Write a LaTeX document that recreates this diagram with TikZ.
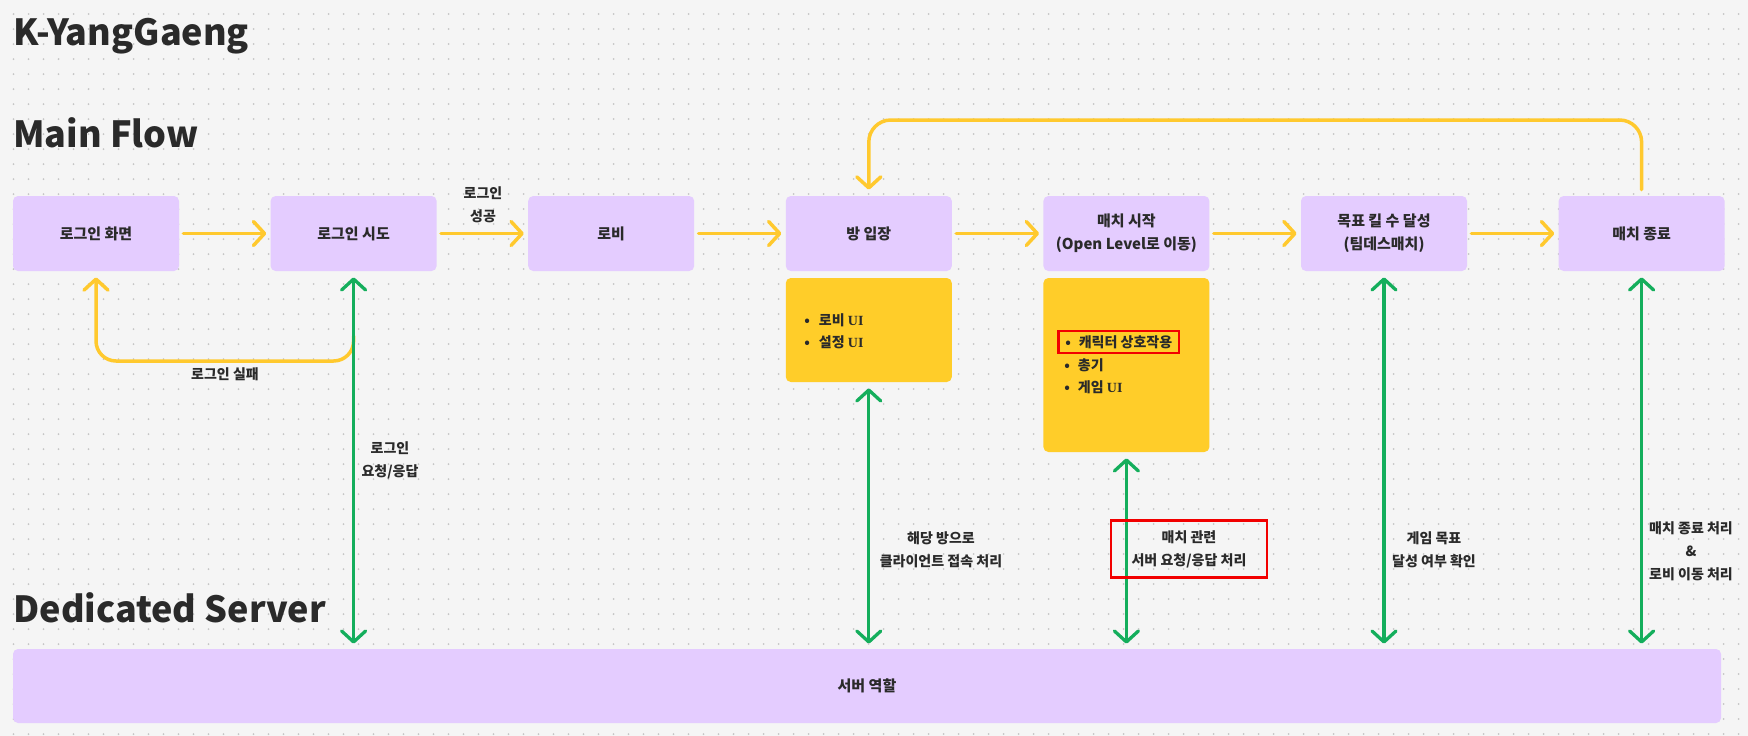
\documentclass[tikz,border=0pt]{standalone}
\usepackage{fontspec}
\setmainfont{Noto Sans CJK KR}
\newfontfamily\uifont{Liberation Serif}
\usetikzlibrary{arrows.meta}

\definecolor{canvas}{HTML}{F5F5F5}
\definecolor{dotgray}{HTML}{C6C6C6}
\definecolor{lavender}{HTML}{E4CCFF}
\definecolor{notey}{HTML}{FFCD29}
\definecolor{arrowy}{HTML}{FFC92E}
\definecolor{linkgreen}{HTML}{14AE5C}
\definecolor{alert}{HTML}{F20000}
\definecolor{ink}{HTML}{2A2A2A}

\tikzset{every picture/.style={line width=0.75pt}}
\tikzset{
  flowbox/.style={fill=lavender, rounded corners=5, minimum width=166, minimum height=75, align=center, text=ink, font=\bfseries\fontsize{15}{23}\selectfont},
  notebox/.style={fill=notey, rounded corners=5, minimum width=166},
  heading/.style={anchor=base west, inner sep=0, text=ink, font=\bfseries\fontsize{36}{40}\selectfont},
  lbl/.style={align=center, text=ink, font=\bfseries\fontsize{14}{23}\selectfont},
  item/.style={anchor=west, inner sep=0, text=ink, font=\bfseries\fontsize{14}{22}\selectfont},
  flow/.style={draw=arrowy, line width=3.5, line cap=round, line join=round, shorten >=4pt, shorten <=4pt, -{Straight Barb[round,length=11pt,width=24pt]}},
  link/.style={draw=linkgreen, line width=3.3, line cap=round, shorten >=5pt, shorten <=6pt, {Straight Barb[round,length=11pt,width=24pt]}-{Straight Barb[round,length=11pt,width=24pt]}}
}

\begin{document}
\begin{tikzpicture}[x=1pt,y=1pt,yscale=-1,xscale=1]
	\fill[canvas] (0,0) rectangle (1748,736);
	\useasboundingbox (0,0) rectangle (1748,736);
	%Dot grid
	\foreach \i in {0,...,115} \foreach \j in {0,...,48} \fill[dotgray] (13.5+15*\i,14+15*\j) circle (1);

	% Titles
	\node[heading] (title) at (13,45) {K-YangGaeng};
	\node[heading] (mainflow) at (13,147) {Main Flow};
	\node[heading] (dedicated) at (13,622) {Dedicated Server};

	%Shape: Rectangle (main flow)
	\node[flowbox] (login) at (96,233.5) {로그인 화면};
	\node[flowbox] (attempt) at (353.6,233.5) {로그인 시도};
	\node[flowbox] (lobby) at (611.2,233.5) {로비};
	\node[flowbox] (room) at (868.8,233.5) {방 입장};
	\node[flowbox] (matchstart) at (1126.4,233.5) {매치 시작\\(Open Level로 이동)};
	\node[flowbox] (killgoal) at (1384,233.5) {목표 킬 수 달성\\(팀데스매치)};
	\node[flowbox] (matchend) at (1641.6,233.5) {매치 종료};
	%Shape: Rectangle (server)
	\node[flowbox, minimum width=1708, minimum height=74] (server) at (867,686) {서버 역할};

	%Shape: Note boxes
	\node[notebox, minimum height=104] (roomnote) at (868.8,330) {};
	\node[notebox, minimum height=174] (matchnote) at (1126.4,365) {};
	% Text Node
	\node[item] (lobbyui) at (804,320) {•\hspace{9pt}로비 {\uifont\bfseries UI}};
	\node[item] (settingui) at (804,342) {•\hspace{9pt}설정 {\uifont\bfseries UI}};
	\node[item, draw=alert, line width=2.5, inner xsep=7, inner ysep=3, minimum height=22] (charitem) at (1057,342) {•\hspace{8pt}캐릭터 상호작용};
	\node[item] (gunitem) at (1064,365) {•\hspace{8pt}총기};
	\node[item] (gameui) at (1064,387) {•\hspace{8pt}게임 {\uifont\bfseries UI}};

	%Straight Lines (flow)
	\draw[flow] (login) -- (attempt);
	\draw[flow] (attempt) -- (lobby);
	\draw[flow] (lobby) -- (room);
	\draw[flow] (room) -- (matchstart);
	\draw[flow] (matchstart) -- (killgoal);
	\draw[flow] (killgoal) -- (matchend);
	% Text Node
	\node[lbl] (successtxt) at (483,204.5) {로그인\\성공};

	%Curve Lines (login failed)
	\coordinate (failstart) at (353.6,336);
	\coordinate (failbottom) at (225,361);
	\draw[flow, rounded corners=20, shorten <=0pt, shorten >=6pt] (failstart) |- (failbottom) -| (login.south);
	% Text Node
	\node[lbl] (failtxt) at (225,374) {로그인 실패};

	%Curve Lines (back to room)
	\coordinate (looptop) at (1250,120);
	\draw[flow, rounded corners=22, shorten <=6pt, shorten >=6pt] (matchend.north) |- (looptop) -| (room.north);

	%Straight Lines (server links)
	\draw[link] (attempt.south) -- (attempt.south |- server.north);
	\draw[link] (roomnote.south) -- (roomnote.south |- server.north);
	\draw[link] (matchnote.south) -- (matchnote.south |- server.north);
	\draw[link] (killgoal.south) -- (killgoal.south |- server.north);
	\draw[link] (matchend.south) -- (matchend.south |- server.north);

	% Text Node
	\node[lbl] (logintxt) at (390,460) {로그인\\요청/응답};
	\node[lbl] (roomtxt) at (941,550) {해당 방으로\\클라이언트 접속 처리};
	\node[lbl, draw=alert, line width=2.5, minimum width=156, minimum height=57] (matchtxt) at (1189,549) {매치 관련\\서버 요청/응답 처리};
	\node[lbl] (goaltxt) at (1434,550) {게임 목표\\달성 여부 확인};
	\node[lbl] (endtxt) at (1691,551) {매치 종료 처리\\\&\\로비 이동 처리};
\end{tikzpicture}
\end{document}
